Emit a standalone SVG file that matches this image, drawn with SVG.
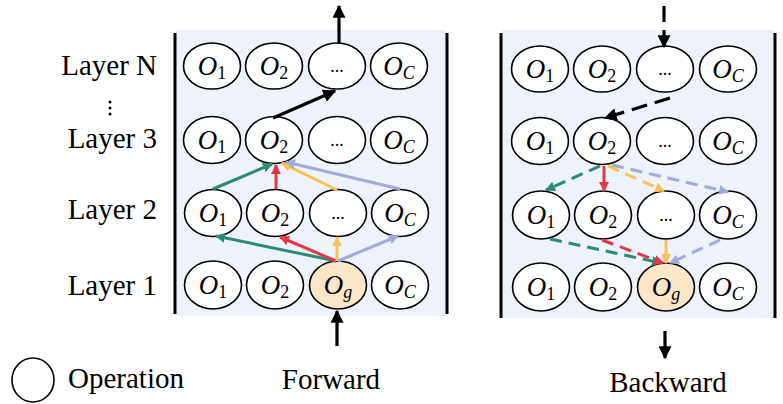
<svg xmlns="http://www.w3.org/2000/svg" width="783" height="404" viewBox="0 0 783 404">
<style>
.op{fill:#fff;stroke:#000;stroke-width:1.6}
.og{fill:#fbe6c9;stroke:#000;stroke-width:1.6}
.lbl{font-style:italic;font-size:27px;text-anchor:middle}
.dots{font-size:18px;text-anchor:middle}
.txt{font-size:29px}
.bar{stroke:#000;stroke-width:3}
.k{stroke:#000;stroke-width:3.2;fill:none}
.teal{stroke:#2a8a72;stroke-width:3;fill:none}
.red{stroke:#e5374b;stroke-width:3;fill:none}
.yel{stroke:#f8c257;stroke-width:3;fill:none}
.lav{stroke:#a3aad6;stroke-width:3;fill:none}
.dash{stroke-dasharray:12 7}
.kdash{stroke-dasharray:16 8}
</style>
<defs>
<marker id="hk" viewBox="0 0 10 10" refX="9" refY="5" markerUnits="userSpaceOnUse" markerWidth="13" markerHeight="13" orient="auto"><path d="M0,0L10,5L0,10z" fill="#000"/></marker>
<marker id="ht" viewBox="0 0 10 10" refX="9" refY="5" markerUnits="userSpaceOnUse" markerWidth="10" markerHeight="10" orient="auto"><path d="M0,0L10,5L0,10z" fill="#2a8a72"/></marker>
<marker id="hr" viewBox="0 0 10 10" refX="9" refY="5" markerUnits="userSpaceOnUse" markerWidth="10" markerHeight="10" orient="auto"><path d="M0,0L10,5L0,10z" fill="#e5374b"/></marker>
<marker id="hy" viewBox="0 0 10 10" refX="9" refY="5" markerUnits="userSpaceOnUse" markerWidth="10" markerHeight="10" orient="auto"><path d="M0,0L10,5L0,10z" fill="#f8c257"/></marker>
<marker id="hl" viewBox="0 0 10 10" refX="9" refY="5" markerUnits="userSpaceOnUse" markerWidth="10" markerHeight="10" orient="auto"><path d="M0,0L10,5L0,10z" fill="#a3aad6"/></marker>
</defs>

<g id="panels">
<rect x="176" y="30" width="270" height="286" fill="#eef2fa"/>
<rect x="502" y="30" width="272" height="288" fill="#eef2fa"/>
<line class="bar" x1="175" y1="33" x2="175" y2="314"/>
<line class="bar" x1="447" y1="33" x2="447" y2="314"/>
<line class="bar" x1="501" y1="33" x2="501" y2="318"/>
<line class="bar" x1="775" y1="33" x2="775" y2="318"/>
</g>

<g id="labels" font-family="Liberation Serif, Times New Roman, serif">
<text class="txt" x="157" y="75" text-anchor="end">Layer N</text>
<circle cx="110" cy="102" r="1.5"/><circle cx="110" cy="108" r="1.5"/><circle cx="110" cy="114" r="1.5"/>
<text class="txt" x="157" y="148" text-anchor="end">Layer 3</text>
<text class="txt" x="157" y="219" text-anchor="end">Layer 2</text>
<text class="txt" x="157" y="295" text-anchor="end">Layer 1</text>
<text class="txt" x="68" y="388">Operation</text>
<text class="txt" x="331" y="389" text-anchor="middle">Forward</text>
<text class="txt" x="668" y="392" text-anchor="middle">Backward</text>
</g>

<g id="legend"><ellipse class="op" cx="33" cy="380" rx="21" ry="22"/></g>

<g id="nodes" font-family="Liberation Serif, Times New Roman, serif">
<g id="fN1"><ellipse class="op" cx="212" cy="66" rx="28.5" ry="23"/><text class="lbl" x="212" y="75">O<tspan font-size="18" dy="4" font-style="normal">1</tspan></text></g>
<g id="fN2"><ellipse class="op" cx="274" cy="66" rx="28.5" ry="23"/><text class="lbl" x="274" y="75">O<tspan font-size="18" dy="4" font-style="normal">2</tspan></text></g>
<g id="fN3"><ellipse class="op" cx="337" cy="66" rx="28.5" ry="23"/><text class="dots" x="337" y="72">...</text></g>
<g id="fN4"><ellipse class="op" cx="399" cy="66" rx="28.5" ry="23"/><text class="lbl" x="399" y="75">O<tspan font-size="18" dy="4">C</tspan></text></g>

<g id="f31"><ellipse class="op" cx="212" cy="140" rx="28.5" ry="23.5"/><text class="lbl" x="212" y="149">O<tspan font-size="18" dy="4" font-style="normal">1</tspan></text></g>
<g id="f32"><ellipse class="op" cx="274" cy="140" rx="28.5" ry="23.5"/><text class="lbl" x="274" y="149">O<tspan font-size="18" dy="4" font-style="normal">2</tspan></text></g>
<g id="f33"><ellipse class="op" cx="337" cy="140" rx="28.5" ry="23.5"/><text class="dots" x="337" y="146">...</text></g>
<g id="f34"><ellipse class="op" cx="399" cy="140" rx="28.5" ry="23.5"/><text class="lbl" x="399" y="149">O<tspan font-size="18" dy="4">C</tspan></text></g>

<g id="f21"><ellipse class="op" cx="213" cy="213" rx="28.5" ry="23.5"/><text class="lbl" x="213" y="222">O<tspan font-size="18" dy="4" font-style="normal">1</tspan></text></g>
<g id="f22"><ellipse class="op" cx="275" cy="213" rx="28.5" ry="23.5"/><text class="lbl" x="275" y="222">O<tspan font-size="18" dy="4" font-style="normal">2</tspan></text></g>
<g id="f23"><ellipse class="op" cx="338" cy="213" rx="28.5" ry="23.5"/><text class="dots" x="338" y="219">...</text></g>
<g id="f24"><ellipse class="op" cx="400" cy="213" rx="28.5" ry="23.5"/><text class="lbl" x="400" y="222">O<tspan font-size="18" dy="4">C</tspan></text></g>

<g id="f11"><ellipse class="op" cx="213" cy="285" rx="28.5" ry="24"/><text class="lbl" x="213" y="294">O<tspan font-size="18" dy="4" font-style="normal">1</tspan></text></g>
<g id="f12"><ellipse class="op" cx="275" cy="285" rx="28.5" ry="24"/><text class="lbl" x="275" y="294">O<tspan font-size="18" dy="4" font-style="normal">2</tspan></text></g>
<g id="f13"><ellipse class="og" cx="338" cy="285" rx="28.5" ry="24"/><text class="lbl" x="338" y="294">O<tspan font-size="18" dy="4">g</tspan></text></g>
<g id="f14"><ellipse class="op" cx="400" cy="285" rx="28.5" ry="24"/><text class="lbl" x="400" y="294">O<tspan font-size="18" dy="4">C</tspan></text></g>

<g id="bN1"><ellipse class="op" cx="540" cy="69" rx="28.5" ry="23"/><text class="lbl" x="540" y="78">O<tspan font-size="18" dy="4" font-style="normal">1</tspan></text></g>
<g id="bN2"><ellipse class="op" cx="602" cy="69" rx="28.5" ry="23"/><text class="lbl" x="602" y="78">O<tspan font-size="18" dy="4" font-style="normal">2</tspan></text></g>
<g id="bN3"><ellipse class="op" cx="665" cy="69" rx="28.5" ry="23"/><text class="dots" x="665" y="75">...</text></g>
<g id="bN4"><ellipse class="op" cx="728" cy="69" rx="28.5" ry="23"/><text class="lbl" x="728" y="78">O<tspan font-size="18" dy="4">C</tspan></text></g>

<g id="b31"><ellipse class="op" cx="540" cy="141" rx="28.5" ry="23.5"/><text class="lbl" x="540" y="150">O<tspan font-size="18" dy="4" font-style="normal">1</tspan></text></g>
<g id="b32"><ellipse class="op" cx="602" cy="141" rx="28.5" ry="23.5"/><text class="lbl" x="602" y="150">O<tspan font-size="18" dy="4" font-style="normal">2</tspan></text></g>
<g id="b33"><ellipse class="op" cx="665" cy="141" rx="28.5" ry="23.5"/><text class="dots" x="665" y="147">...</text></g>
<g id="b34"><ellipse class="op" cx="728" cy="141" rx="28.5" ry="23.5"/><text class="lbl" x="728" y="150">O<tspan font-size="18" dy="4">C</tspan></text></g>

<g id="b21"><ellipse class="op" cx="541" cy="215" rx="28.5" ry="24"/><text class="lbl" x="541" y="224">O<tspan font-size="18" dy="4" font-style="normal">1</tspan></text></g>
<g id="b22"><ellipse class="op" cx="603" cy="215" rx="28.5" ry="24"/><text class="lbl" x="603" y="224">O<tspan font-size="18" dy="4" font-style="normal">2</tspan></text></g>
<g id="b23"><ellipse class="op" cx="666" cy="215" rx="28.5" ry="24"/><text class="dots" x="666" y="221">...</text></g>
<g id="b24"><ellipse class="op" cx="728" cy="215" rx="28.5" ry="24"/><text class="lbl" x="728" y="224">O<tspan font-size="18" dy="4">C</tspan></text></g>

<g id="b11"><ellipse class="op" cx="541" cy="287" rx="28.5" ry="24"/><text class="lbl" x="541" y="296">O<tspan font-size="18" dy="4" font-style="normal">1</tspan></text></g>
<g id="b12"><ellipse class="op" cx="603" cy="287" rx="28.5" ry="24"/><text class="lbl" x="603" y="296">O<tspan font-size="18" dy="4" font-style="normal">2</tspan></text></g>
<g id="b13"><ellipse class="og" cx="666" cy="287" rx="28.5" ry="24"/><text class="lbl" x="666" y="296">O<tspan font-size="18" dy="4">g</tspan></text></g>
<g id="b14"><ellipse class="op" cx="728" cy="287" rx="28.5" ry="24"/><text class="lbl" x="728" y="296">O<tspan font-size="18" dy="4">C</tspan></text></g>
</g>

<g id="connectors">
<line class="k" x1="339" y1="43" x2="339" y2="6" marker-end="url(#hk)"/>
<line class="k" x1="273" y1="118" x2="335" y2="91" marker-end="url(#hk)"/>
<line class="k" x1="337" y1="346" x2="337" y2="311" marker-end="url(#hk)"/>
<line class="teal" x1="213" y1="189" x2="272" y2="164" marker-end="url(#ht)"/>
<line class="red" x1="276" y1="189" x2="276" y2="165" marker-end="url(#hr)"/>
<line class="yel" x1="337" y1="190" x2="282" y2="163" marker-end="url(#hy)"/>
<line class="lav" x1="400" y1="189" x2="286" y2="162" marker-end="url(#hl)"/>
<line class="teal" x1="336" y1="261" x2="216" y2="236" marker-end="url(#ht)"/>
<line class="red" x1="336" y1="261" x2="280" y2="237" marker-end="url(#hr)"/>
<line class="yel" x1="337" y1="261" x2="337" y2="237" marker-end="url(#hy)"/>
<line class="lav" x1="338" y1="261" x2="398" y2="236" marker-end="url(#hl)"/>
<line class="k kdash" x1="664" y1="6" x2="664" y2="47" marker-end="url(#hk)"/>
<line class="k kdash" x1="670" y1="98" x2="605" y2="118" marker-end="url(#hk)"/>
<line class="k" x1="665" y1="331" x2="665" y2="358" marker-end="url(#hk)"/>
<line class="teal dash" x1="600" y1="166" x2="546" y2="190" marker-end="url(#ht)"/>
<line class="red" x1="604" y1="166" x2="604" y2="191" marker-end="url(#hr)"/>
<line class="yel dash" x1="608" y1="166" x2="664" y2="191" marker-end="url(#hy)"/>
<line class="lav dash" x1="612" y1="165" x2="728" y2="192" marker-end="url(#hl)"/>
<line class="teal dash" x1="550" y1="239" x2="661" y2="263" marker-end="url(#ht)"/>
<line class="red dash" x1="602" y1="240" x2="663" y2="263" marker-end="url(#hr)"/>
<line class="yel" x1="666" y1="240" x2="666" y2="263" marker-end="url(#hy)"/>
<line class="lav dash" x1="720" y1="240" x2="670" y2="263" marker-end="url(#hl)"/>
</g>
</svg>
